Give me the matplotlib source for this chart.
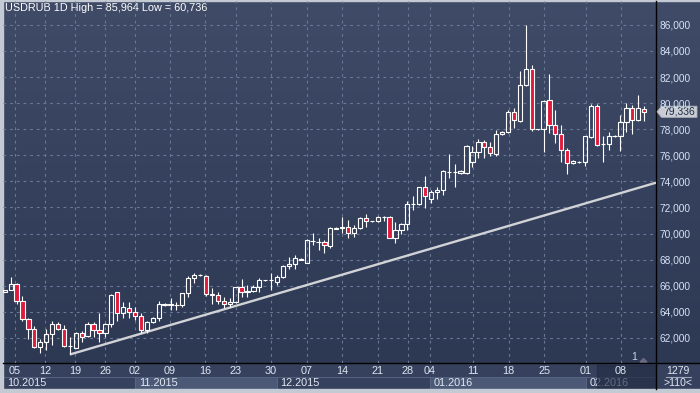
import matplotlib.pyplot as plt
import numpy as np
from matplotlib.colors import LinearSegmentedColormap
from matplotlib.patches import Rectangle, Polygon

plt.rcParams['font.family'] = ['Liberation Sans', 'DejaVu Sans']

# daily USDRUB candles, 10.2015 - 02.2016
opens = [65530, 65678, 66115, 64835, 63433, 62667, 61333, 61717, 62307, 63050,
         62667, 61387, 61257, 62360, 62153, 63050, 62613, 62360, 63050, 65500,
         63893, 64322, 63970, 63686, 62613, 63203, 63510, 64550, 64600, 64560,
         64529, 65425, 66575, 66800, 66751, 65349, 65272, 64835, 64582, 64736,
         65885, 65560, 65578, 65885, 66430, 66440, 66314, 66651, 67494, 67671,
         68010, 67770, 69420, 69320, 69333, 69050, 70390, 70406, 70529, 70023,
         70406, 71172, 70950, 70966, 71280, 71250, 69686, 70276, 70713, 72230,
         72245, 73548, 72629, 73165, 73341, 74700, 74700, 74621, 74621, 75510,
         76230, 76996, 76613, 76077, 77609, 77763, 79295, 78629, 81388, 82614,
         77980, 77993, 80215, 78322, 77609, 76407, 75387, 75470, 75487, 77425,
         79778, 76850, 76843, 77490, 77502, 78529, 79650, 78682, 79576]
highs = [65700, 66651, 66190, 65241, 63533, 62920, 61923, 62667, 63303, 63249,
         62996, 62100, 62483, 62536, 63203, 63250, 63893, 63127, 65350, 65502,
         64736, 64736, 64400, 63893, 63303, 63632, 64835, 64700, 65042, 64780,
         65470, 66751, 67004, 66900, 66800, 65808, 65525, 65165, 65042, 65931,
         66521, 66061, 66061, 66575, 66480, 67004, 66828, 67571, 68230, 68337,
         68107, 69560, 70023, 69640, 69510, 70483, 70480, 71250, 71042, 70660,
         71250, 71500, 71000, 71350, 71350, 71350, 70912, 70835, 72521, 72881,
         73600, 74414, 73341, 73548, 74874, 76077, 75334, 74850, 76800, 76713,
         77226, 77173, 77041, 77939, 77830, 79472, 79602, 82460, 85964, 82920,
         78050, 80200, 82207, 79472, 78322, 76537, 75620, 75530, 77500, 79908,
         79908, 77502, 77809, 77560, 79089, 79985, 79855, 80621, 79808]
lows = [65500, 65650, 64582, 63303, 61923, 61257, 60828, 61080, 61464, 62613,
        61330, 60736, 61210, 61670, 62100, 62100, 61670, 62100, 62866, 63303,
        63555, 63555, 63380, 62360, 62360, 63127, 63303, 64450, 64146, 64146,
        64350, 65165, 66192, 66750, 65218, 64582, 64582, 64276, 64400, 64700,
        65165, 65165, 65502, 65525, 66400, 65678, 66061, 66600, 67310, 67264,
        67950, 67720, 69127, 68743, 68536, 68900, 70330, 70023, 69640, 69763,
        70330, 70529, 70900, 70900, 70990, 69640, 69257, 69947, 70276, 71808,
        72200, 71985, 72368, 72629, 72958, 74238, 73548, 74550, 74550, 75081,
        75770, 75770, 75970, 75970, 77550, 77700, 78070, 78576, 81335, 77862,
        77950, 76276, 77686, 76920, 75510, 74544, 75330, 75420, 75203, 77302,
        76710, 75510, 76407, 77440, 76353, 77763, 77609, 78629, 78629]
closes = [65670, 66115, 64835, 63433, 62667, 61333, 61717, 62307, 63050, 62667,
          61387, 61420, 62360, 62100, 63050, 62613, 62360, 63050, 65295, 63893,
          64400, 63970, 63686, 62613, 63203, 63510, 64582, 64600, 64560, 64540,
          65425, 66575, 66828, 66850, 65349, 65300, 64835, 64582, 64759, 65885,
          65502, 65590, 65885, 66445, 66460, 66460, 66651, 67517, 67671, 68107,
          68050, 69510, 69450, 69345, 69127, 70406, 70420, 70529, 70023, 70406,
          71172, 70966, 70980, 71250, 71300, 69686, 70276, 70713, 72245, 72260,
          73548, 72904, 73165, 73341, 74774, 74740, 74730, 74774, 76713, 76230,
          76996, 76613, 76154, 77609, 77763, 79295, 78682, 81388, 82614, 77993,
          78010, 80161, 78322, 77609, 76407, 75387, 75560, 75500, 77479, 79802,
          76790, 76880, 77502, 77515, 78529, 79602, 78682, 79602, 79336]

day_labels = ['05', '12', '19', '26', '02', '09', '16', '23', '30', '07',
              '14', '21', '28', '04', '11', '18', '25', '01', '08']
day_pos = [1.74, 6.81, 11.87, 16.94, 22.01, 27.84, 33.83, 39.07, 44.93, 51.06,
           56.98, 62.97, 68.04, 71.84, 79.05, 85.10, 91.12, 98.14, 104.10]
month_labels = ['10.2015', '11.2015', '12.2015', '01.2016', '02.2016']
month_start_px = [3, 135, 276.5, 430, 585.5]

trend_x = [11, 110]
trend_y = [60736, 73900]
y_ticks = list(range(62000, 86001, 2000))

W, H = 700, 393
fig = plt.figure(figsize=(7, 3.93), dpi=100)

# background layer in pixel coordinates
bg = fig.add_axes([0, 0, 1, 1])
bg.set_xlim(0, W)
bg.set_ylim(H, 0)
bg.axis('off')
cmap = LinearSegmentedColormap.from_list('bgg', ['#3f4b67', '#2d3853'])
grad = np.linspace(0, 1, 256).reshape(-1, 1)
bg.imshow(grad, cmap=cmap, extent=(0, W, 363.3, 0), aspect='auto', zorder=0)

# x axis strips
bg.add_patch(Rectangle((0, 363.3), W, 26, color='#36425d', zorder=1))
month_end_px = month_start_px[1:] + [656]
for k, (m, a, b) in enumerate(zip(month_labels, month_start_px, month_end_px)):
    fc = '#4b5876' if k % 2 == 1 else '#36425d'
    bg.add_patch(Rectangle((a, 376.5), b - a, 12.5, facecolor=fc,
                           edgecolor='#5a6886', lw=0.6, zorder=1))
    bg.text(a + 4, 382.8, m, color='#e2e8f2', fontsize=7.8, va='center', ha='left', zorder=3)
bg.add_patch(Rectangle((597, 365), 59, 24, color='#222b42', alpha=0.65, zorder=4))

# borders and separators
bg.add_patch(Rectangle((0, 389), W, 4, color='#c3cad3', zorder=5))
bg.add_patch(Rectangle((0, 0), 3, H, color='#c3cad3', zorder=5))
bg.add_patch(Rectangle((0, 0), W, 1, color='#c3cad3', zorder=5))
bg.plot([656, 656], [1, 389], color='black', lw=1, zorder=5)
bg.plot([3, W], [363.3, 363.3], color='black', lw=1, zorder=5)

# right panel extras
bg.text(678, 370.5, '1279', color='#e2e8f2', fontsize=7.5, ha='center', va='center')
bg.plot([666, 691], [377, 377], color='#9aa6bb', lw=0.8)
bg.text(678, 383.5, '>110<', color='#e2e8f2', fontsize=7.5, ha='center', va='center')
bg.text(634, 357.5, '1', color='#c8d6ee', fontsize=7.5, ha='center', va='center', zorder=6)
bg.add_patch(Polygon([[640, 362], [643.5, 358.5], [647, 362]], color='#6b6880', zorder=6))

# header
bg.text(5, 8, 'USDRUB 1D High = 85,964 Low = 60,736', color='white', fontsize=7.8,
        ha='left', va='center', zorder=6)

# main chart
ax = fig.add_axes([3.3 / W, 1 - 363.3 / H, (656 - 3.3) / W, (363.3 - 1) / H])
ax.set_facecolor('none')
ax.set_xlim(-0.24, 110.0)
ax.set_ylim(60061, 87824)
for s in ax.spines.values():
    s.set_visible(False)

ax.set_yticks(y_ticks)
ax.set_yticklabels([f'{v:,}' for v in y_ticks])
ax.yaxis.tick_right()
ax.tick_params(axis='y', length=0, pad=2.2, labelsize=7.3, labelcolor='#d6e2f4')
ax.set_xticks(day_pos)
ax.set_xticklabels(day_labels)
ax.tick_params(axis='x', length=0, pad=1.8, labelsize=7.8, labelcolor='#dfe6f2')
ax.grid(True, color='#687896', lw=0.8, linestyle=(0, (2.5, 3.5)))
ax.set_axisbelow(True)

ax.plot(trend_x, trend_y, color='#d2d3d7', lw=1.7, zorder=2, solid_capstyle='butt')

o = np.array(opens)
c = np.array(closes)
hi = np.array(highs)
lo = np.array(lows)
x = np.arange(len(o))
top = np.maximum(o, c)
bot = np.minimum(o, c)
down = c < o
ax.vlines(x, top, hi, color='white', lw=0.8, zorder=3)
ax.vlines(x, lo, bot, color='white', lw=0.8, zorder=3)
face = ['#e01a3c' if d else 'none' for d in down]
ax.bar(x, top - bot, bottom=bot, width=0.72, color=face, edgecolor='white',
       linewidth=0.8, zorder=4)

# last price tag
last = closes[-1]
ly = H - ax.transData.transform((0, last))[1]
tag = Polygon([[657, ly], [661.5, ly - 5.6], [697, ly - 5.6], [697, ly + 5.6], [661.5, ly + 5.6]],
              facecolor='#c9cdd3', edgecolor='#a9aeb6', lw=0.6, zorder=7)
bg.add_patch(tag)
bg.text(663, ly, f'{last:,}', color='#1d2a44', fontsize=7.5, ha='left', va='center', zorder=8)

fig.savefig('out.png', dpi=100)
